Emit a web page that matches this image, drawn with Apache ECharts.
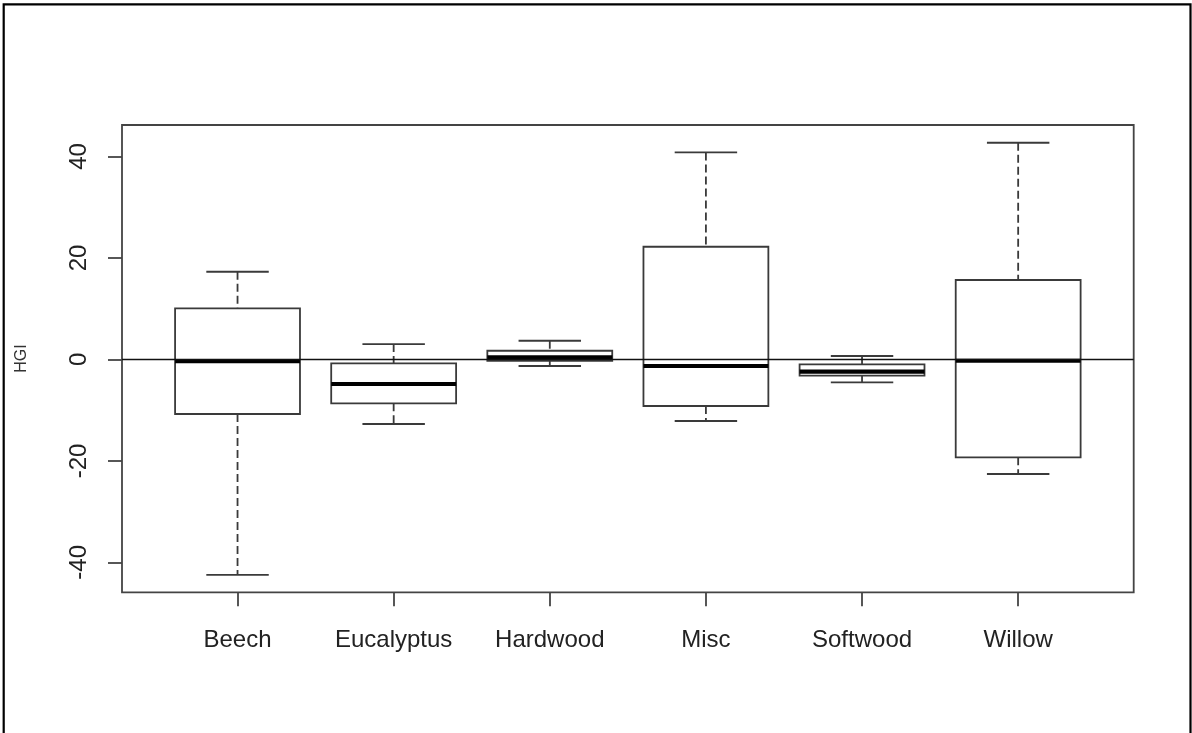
<!DOCTYPE html>
<html>
<head>
<meta charset="utf-8">
<title>HGI by wood type</title>
<script src="https://cdn.jsdelivr.net/npm/echarts@6/dist/echarts.min.js"></script>
<style>
  html, body { margin: 0; padding: 0; background: #fff; }
  #chart { width: 1192px; height: 733px; }
</style>
</head>
<body>
<div id="chart"></div>
<script>
// Wood types along the x axis
const categories = ['Beech', 'Eucalyptus', 'Hardwood', 'Misc', 'Softwood', 'Willow'];
// Five-number summaries per group: lower whisker, Q1, median, Q3, upper whisker
const lowerWhisker = [-42.48, -12.73, -1.30, -12.14, -4.51, -22.58];
const q1Values     = [-10.76,  -8.65, -0.26,  -9.18, -3.21, -19.29];
const medians      = [ -0.32,  -4.85,  0.41,  -1.30, -2.42,  -0.26];
const q3Values     = [ 10.07,  -0.77,  1.71,  22.20, -0.97,  15.65];
const upperWhisker = [ 17.28,   3.03,  3.68,  40.80,  0.67,  42.70];
// Y axis tick labels
const yTicks = [-40, -20, 0, 20, 40];

const boxData = categories.map((c, i) => [
  i + 1, lowerWhisker[i], q1Values[i], medians[i], q3Values[i], upperWhisker[i]
]);

const FONT = '"Liberation Sans", Arial, sans-serif';

function renderBox(params, api) {
  const x = api.value(0);
  const pLo = api.coord([x, api.value(1)]);
  const pQ1 = api.coord([x, api.value(2)]);
  const pMed = api.coord([x, api.value(3)]);
  const pQ3 = api.coord([x, api.value(4)]);
  const pHi = api.coord([x, api.value(5)]);
  const band = api.size([1, 0])[0];
  const boxW = band * 0.8;
  const capW = boxW * 0.5;
  const cx = pLo[0];
  const lineStyle = { stroke: '#3a3a3a', lineWidth: 1.8, fill: null };
  const dashStyle = { stroke: '#3a3a3a', lineWidth: 1.8, lineDash: [8, 4], fill: null };
  return {
    type: 'group',
    children: [
      { type: 'line', shape: { x1: cx, y1: pHi[1], x2: cx, y2: pQ3[1] }, style: dashStyle },
      { type: 'line', shape: { x1: cx, y1: pQ1[1], x2: cx, y2: pLo[1] }, style: dashStyle },
      { type: 'line', shape: { x1: cx - capW / 2, y1: pHi[1], x2: cx + capW / 2, y2: pHi[1] }, style: lineStyle },
      { type: 'line', shape: { x1: cx - capW / 2, y1: pLo[1], x2: cx + capW / 2, y2: pLo[1] }, style: lineStyle },
      { type: 'rect', shape: { x: cx - boxW / 2, y: pQ3[1], width: boxW, height: pQ1[1] - pQ3[1] }, style: lineStyle },
      { type: 'line', shape: { x1: cx - boxW / 2, y1: pMed[1], x2: cx + boxW / 2, y2: pMed[1] },
        style: { stroke: '#000', lineWidth: 4.2 } }
    ]
  };
}

const chart = echarts.init(document.getElementById('chart'), null, { renderer: 'canvas' });

chart.setOption({
  animation: false,
  backgroundColor: '#fff',
  graphic: [{
    type: 'rect',
    shape: { x: 3.7, y: 4.3, width: 1186.8, height: 800 },
    style: { fill: null, stroke: '#000', lineWidth: 2.2 },
    silent: true
  }],
  grid: {
    left: 122, right: 58.3, top: 125, bottom: 140.7,
    show: true, borderColor: '#444', borderWidth: 1.8, backgroundColor: 'transparent'
  },
  xAxis: {
    type: 'value',
    position: 'bottom',
    min: 0.26, max: 6.74,
    splitLine: { show: false },
    axisLine: { show: false, onZero: false },
    axisTick: { show: true, length: 14, lineStyle: { color: '#444', width: 1.8 }, customValues: [1, 2, 3, 4, 5, 6] },
    axisLabel: {
      customValues: [1, 2, 3, 4, 5, 6],
      formatter: v => categories[Math.round(v) - 1],
      margin: 36, color: '#222', fontSize: 24, fontFamily: FONT
    }
  },
  yAxis: {
    type: 'value',
    position: 'left',
    min: -45.9, max: 46.2,
    name: 'HGI',
    nameLocation: 'middle',
    nameGap: 92,
    nameTextStyle: { color: '#333', fontSize: 16, fontFamily: FONT },
    splitLine: { show: false },
    axisLine: { show: false, onZero: false },
    axisTick: { show: true, length: 14, lineStyle: { color: '#444', width: 1.8 }, customValues: yTicks },
    axisLabel: {
      customValues: yTicks,
      rotate: 90,
      margin: 31, color: '#222', fontSize: 24, fontFamily: FONT
    }
  },
  series: [{
    type: 'custom',
    renderItem: renderBox,
    data: boxData,
    z: 3,
    markLine: {
      silent: true,
      symbol: 'none',
      label: { show: false },
      lineStyle: { color: '#111', width: 1.4, type: 'solid' },
      data: [{ yAxis: 0 }]
    }
  }]
});
</script>
</body>
</html>
